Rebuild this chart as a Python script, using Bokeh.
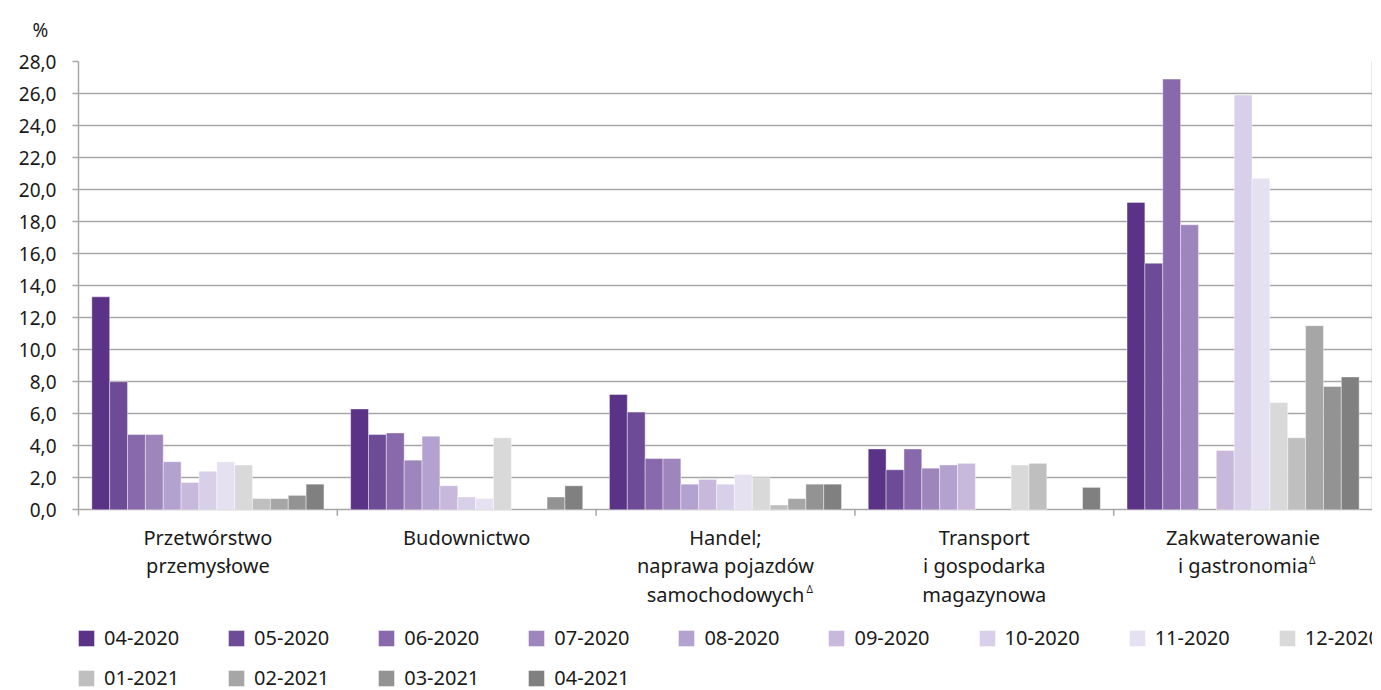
from bokeh.plotting import figure
from bokeh.models import (ColumnDataSource, FixedTicker, Legend, LegendItem, Range1d, LinearAxis)
from bokeh.core.properties import value
from bokeh.embed import file_html
from bokeh.resources import INLINE

FONT = "Noto Sans"
TXT = "#1a1a1a"
GRID = "#a6a6a6"

categories = ["Przetwórstwo\nprzemysłowe", "Budownictwo", "Handel;\nnaprawa pojazdów\nsamochodowych",
              "Transport\ni gospodarka\nmagazynowa", "Zakwaterowanie\ni gastronomia"]
footnoted = [False, False, True, False, True]
months = ["04-2020", "05-2020", "06-2020", "07-2020", "08-2020", "09-2020", "10-2020",
          "11-2020", "12-2020", "01-2021", "02-2021", "03-2021", "04-2021"]
colors = ["#5a3286", "#6d4b97", "#8869ab", "#9e85bc", "#b3a1cf", "#c7b8dc", "#d8cfe8",
          "#e6e1f1", "#d9d9d9", "#bfbfbf", "#a6a6a6", "#939393", "#808080"]

# values per category, one per month (None = no bar)
przetworstwo = [13.3, 8.0, 4.7, 4.7, 3.0, 1.7, 2.4, 3.0, 2.8, 0.7, 0.7, 0.9, 1.6]
budownictwo = [6.3, 4.7, 4.8, 3.1, 4.6, 1.5, 0.8, 0.7, 4.5, None, None, 0.8, 1.5]
handel = [7.2, 6.1, 3.2, 3.2, 1.6, 1.9, 1.6, 2.2, 2.0, 0.3, 0.7, 1.6, 1.6]
transport = [3.8, 2.5, 3.8, 2.6, 2.8, 2.9, None, None, 2.8, 2.9, None, None, 1.4]
zakwaterowanie = [19.2, 15.4, 26.9, 17.8, None, 3.7, 25.9, 20.7, 6.7, 4.5, 11.5, 7.7, 8.3]
series = [przetworstwo, budownictwo, handel, transport, zakwaterowanie]

y_ticks = [0, 2, 4, 6, 8, 10, 12, 14, 16, 18, 20, 22, 24, 26, 28]

# layout constants (pixels)
FRAME_W = 1294
PX_PER_UNIT = 16.01
FRAME_H = 639
Y_TOP = 28
Y_BOTTOM = Y_TOP - FRAME_H / PX_PER_UNIT   # room under zero for labels and legend
TICK_PX = 6
LINE_PX = 29
LABEL_TOP = -0.86
FOOT_OFFSETS = [81, 66]   # px from label centre to the superscript mark
BAR_W = 0.069
n = len(months)

p = figure(frame_width=FRAME_W, frame_height=FRAME_H, output_backend="svg", toolbar_location=None,
           x_range=Range1d(0, len(categories)), y_range=Range1d(Y_BOTTOM, Y_TOP),
           x_axis_location=None,
           min_border_left=78, min_border_right=0, min_border_top=0, min_border_bottom=0)
p.background_fill_color = "white"
p.border_fill_color = "white"
p.outline_line_color = None

renderers = []
for j, m in enumerate(months):
    xs, tops = [], []
    for i, s in enumerate(series):
        v = s[j]
        xs.append(i + 0.5 + (j - (n - 1) / 2) * BAR_W)
        tops.append(float("nan") if v is None else v)
    src = ColumnDataSource(dict(x=xs, top=tops))
    r = p.vbar(x="x", top="top", width=BAR_W, bottom=0, source=src,
               fill_color=colors[j], line_color="white", line_width=0.6, line_alpha=0.7)
    renderers.append(r)

# grid
p.xgrid.grid_line_color = None
p.ygrid.grid_line_color = GRID
p.ygrid.grid_line_width = 1.5
p.ygrid.ticker = FixedTicker(ticks=y_ticks)

# y axis
yax = p.yaxis[0]
yax.ticker = FixedTicker(ticks=y_ticks)
yax.bounds = (-TICK_PX / PX_PER_UNIT, Y_TOP)
yax.major_label_overrides = {t: f"{t:.1f}".replace(".", ",") for t in y_ticks}
yax.major_label_text_font = FONT
yax.major_label_text_font_size = "19px"
yax.major_label_text_color = TXT
yax.axis_line_color = GRID
yax.axis_line_width = 1.5
yax.major_tick_line_color = GRID
yax.major_tick_line_width = 1.5
yax.major_tick_out = 6
yax.major_tick_in = 0
yax.minor_tick_line_color = None
yax.major_label_standoff = 16

# right border line
rax = LinearAxis(ticker=FixedTicker(ticks=[]), bounds=(0, Y_TOP), axis_line_color=GRID,
                 axis_line_width=1.5, major_label_text_font_size="0px",
                 major_tick_line_color=None, minor_tick_line_color=None)
p.add_layout(rax, "right")

# group separators below zero
bounds_x = list(range(1, len(categories)))
p.segment(x0=bounds_x, x1=bounds_x, y0=[0] * len(bounds_x),
          y1=[-TICK_PX / PX_PER_UNIT] * len(bounds_x), line_color=GRID, line_width=1.5)

centers = [i + 0.5 for i in range(len(categories))]
p.text(x=centers, y=[LABEL_TOP] * len(centers), text=categories, text_font=value(FONT),
       text_font_size="20px", text_color=TXT, text_align="center", text_baseline="top",
       text_line_height=1.06)

# superscript triangles after the last line of footnoted labels
n_lines = [len(c.split("\n")) for c in categories]
fx = [centers[i] for i in range(len(categories)) if footnoted[i]]
fy = [LABEL_TOP - (n_lines[i] - 1) * LINE_PX / PX_PER_UNIT - 0.05
      for i in range(len(categories)) if footnoted[i]]
p.text(x=fx, y=fy, text=["Δ"] * len(fx), x_offset=FOOT_OFFSETS, text_font=value(FONT),
       text_font_size="10px", text_color=TXT, text_align="left", text_baseline="top")

# title "%"
p.title.text = "%"
p.title.text_font = FONT
p.title.text_font_size = "19px"
p.title.text_font_style = "normal"
p.title.text_color = TXT
p.title.align = "left"
p.title.vertical_align = "top"
p.title.offset = -46
p.title.standoff = 33

def make_legend(idx, y_px):
    lg = Legend(items=[LegendItem(label=months[k], renderers=[renderers[k]]) for k in idx],
                orientation="horizontal")
    lg.label_text_font = FONT
    lg.label_text_font_size = "20px"
    lg.label_text_color = TXT
    lg.label_height = 27
    lg.glyph_width = 20
    lg.glyph_height = 20
    lg.label_standoff = 8
    lg.spacing = 47
    lg.padding = 2
    lg.margin = 0
    lg.border_line_color = None
    lg.background_fill_alpha = 0
    lg.location = (-2, y_px)
    return lg

p.add_layout(make_legend(range(0, 9), 49))
p.add_layout(make_legend(range(9, 13), 9))

open("out.html", "w").write(file_html(p, INLINE))
